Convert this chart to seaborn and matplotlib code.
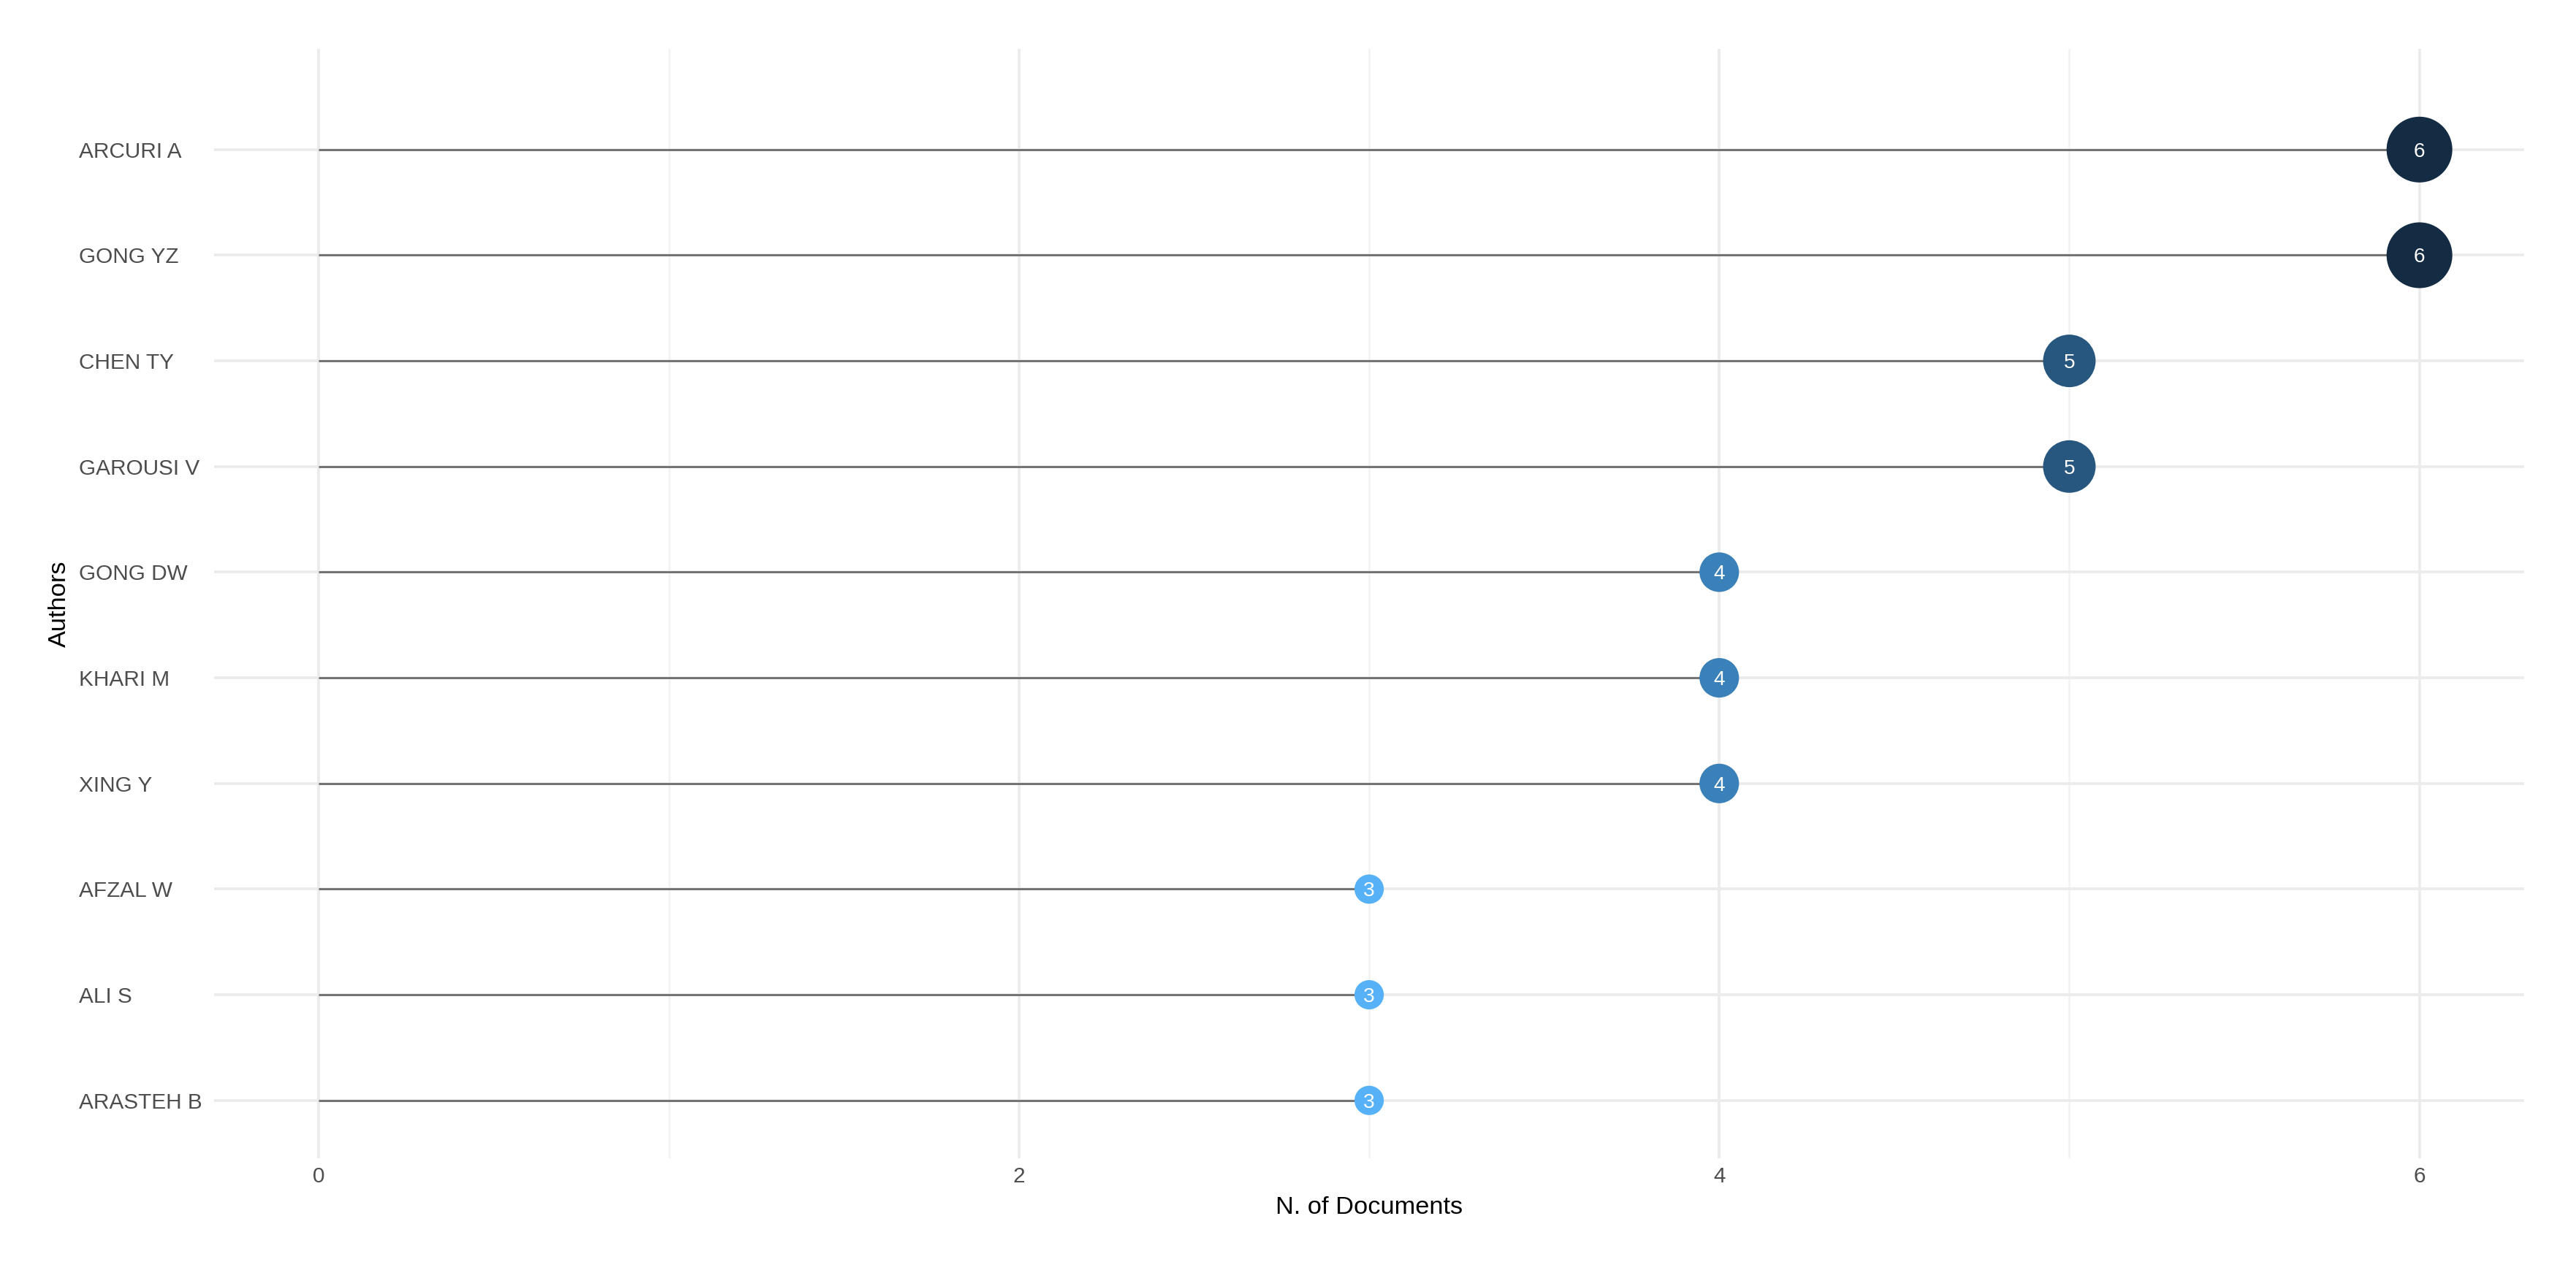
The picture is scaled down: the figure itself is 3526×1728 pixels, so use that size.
import matplotlib
matplotlib.use("Agg")
import matplotlib.pyplot as plt
import numpy as np
import pandas as pd
import seaborn as sns

authors = ["ARCURI A", "GONG YZ", "CHEN TY", "GAROUSI V", "GONG DW",
           "KHARI M", "XING Y", "AFZAL W", "ALI S", "ARASTEH B"]
docs = [6, 6, 5, 5, 4, 4, 4, 3, 3, 3]

df = pd.DataFrame({"Authors": authors, "Docs": docs})

sns.set_theme(style="white")
plt.rcParams['font.family'] = ['Liberation Sans', 'DejaVu Sans']

fig = plt.figure(figsize=(3526 / 225, 1728 / 225), dpi=225)
ax = fig.add_axes([0.083, 0.082, 0.897, 0.879])

ypos = np.arange(len(authors))
# grid
for v in [1, 3, 5]:
    ax.axvline(v, color="#F2F2F2", lw=0.8, zorder=0)
for v in [0, 2, 4, 6]:
    ax.axvline(v, color="#EBEBEB", lw=1.2, zorder=0)
for y in ypos:
    ax.axhline(y, color="#EBEBEB", lw=1.2, zorder=0)

ax.hlines(ypos, 0, df["Docs"], color="#6E6E6E", lw=0.9, zorder=1)

palette = {3: "#56B1F7", 4: "#3A80B9", 5: "#27567F", 6: "#132B43"}
sizes = {3: 165, 4: 300, 5: 530, 6: 830}
sns.scatterplot(data=df, x="Docs", y="Authors", hue="Docs", size="Docs",
                palette=palette, sizes=sizes, legend=False, linewidth=0,
                ax=ax, zorder=3)

for y, v in zip(ypos, df["Docs"]):
    ax.text(v, y, str(v), color="white", ha="center", va="center_baseline",
            fontsize=9, zorder=4)

ax.set_xlim(-0.3, 6.3)
ax.set_ylim(len(authors) - 0.45, -0.95)
ax.set_xticks([0, 2, 4, 6])
ax.set_yticks(ypos)
ax.set_yticklabels(authors, ha="left")
ax.tick_params(axis="y", pad=59, labelsize=9.5, colors="#4D4D4D", length=0)
ax.tick_params(axis="x", labelsize=9.5, colors="#4D4D4D", length=0)
ax.set_xlabel("N. of Documents", fontsize=11, color="black")
ax.set_ylabel("Authors", fontsize=11, color="black", labelpad=0)
ax.yaxis.set_label_coords(-0.062, 0.5)
for s in ax.spines.values():
    s.set_visible(False)

fig.savefig("out.png", dpi=225, facecolor="white")
